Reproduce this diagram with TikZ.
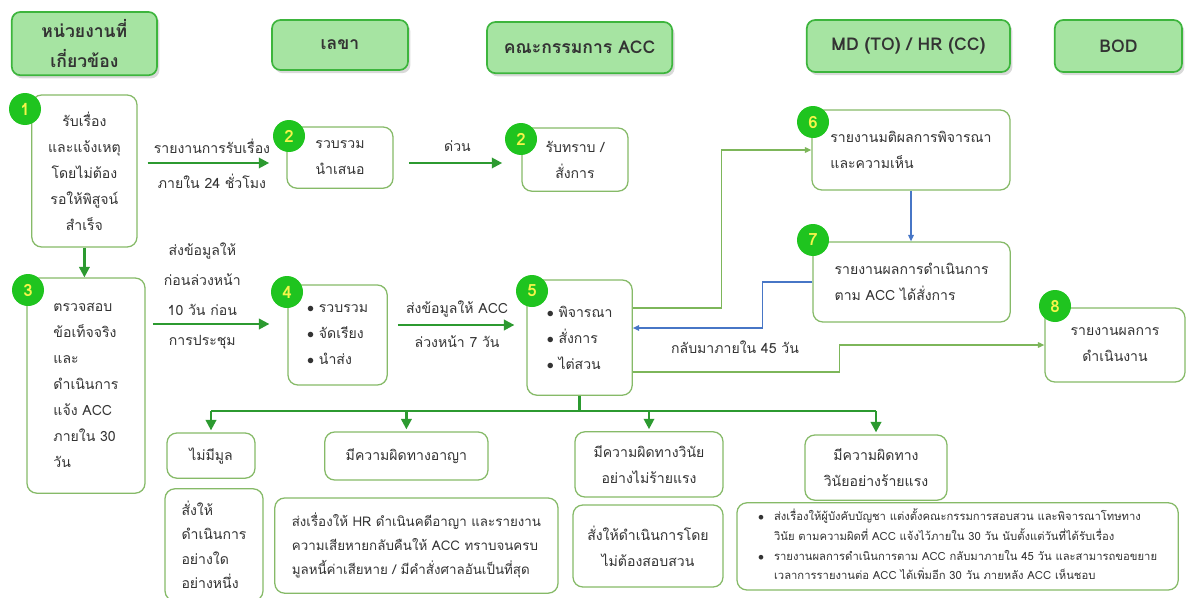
\documentclass[tikz,border=0pt]{standalone}
\usepackage{fontspec}
\setmainfont{Loma}[Script=Thai]
\usepackage{xcolor}
\usepackage{tikz}
\usetikzlibrary{calc,positioning,arrows.meta,shadows}
\definecolor{accHead}{HTML}{A6E4A2}
\definecolor{accHeadLine}{HTML}{3DB53D}
\definecolor{accLine}{HTML}{86BA68}
\definecolor{accBadge}{HTML}{1FC41F}
\definecolor{accBadgeText}{HTML}{F5F54A}
\definecolor{accFlow}{HTML}{2C9A30}
\definecolor{accThin}{HTML}{7DB65A}
\definecolor{accBlue}{HTML}{4776C6}
\definecolor{accText}{HTML}{333333}

\begin{document}
\begin{tikzpicture}[
  font=\fontsize{10}{18.5}\selectfont, text=accText,
  hd/.style={rounded corners=6pt, draw=accHeadLine, line width=1.2pt, fill=accHead, align=center,
             font=\fontsize{12.5}{21}\selectfont\bfseries,
             drop shadow={opacity=0.3, shadow xshift=0.6mm, shadow yshift=-0.8mm}},
  bx/.style={rounded corners=7pt, draw=accLine, line width=0.9pt, fill=white, align=center, inner sep=2pt},
  bxl/.style={bx, align=left},
  num/.style={circle, fill=accBadge, text=accBadgeText, minimum size=8mm, inner sep=0pt,
              font=\fontsize{12}{12}\selectfont\bfseries},
  flow/.style={-{Triangle[length=2.6mm, width=2.6mm]}, draw=accFlow, line width=1.6pt},
  bus/.style={draw=accFlow, line width=1.6pt},
  lite/.style={-{Triangle[length=1.6mm, width=1.4mm]}, draw=accThin, line width=0.9pt},
  ret/.style={-{Triangle[length=1.6mm, width=1.4mm]}, draw=accBlue, line width=0.9pt},
  lb/.style={inner sep=1pt}
]
\useasboundingbox (0,0) rectangle (29.65,-14.925);

% column headers
\node[hd, minimum width=3.63cm, minimum height=1.58cm] (hUnit) at (2.11,-1.09) {หน่วยงานที่\\เกี่ยวข้อง};
\node[hd, minimum width=3.4cm, minimum height=1.25cm] (hSec) at (8.5,-1.125) {เลขา};
\node[hd, minimum width=4.63cm, minimum height=1.28cm] (hAcc) at (14.49,-1.19) {คณะกรรมการ ACC};
\node[hd, minimum width=5.08cm, minimum height=1.3cm] (hMd) at (22.71,-1.15) {MD (TO) / HR (CC)};
\node[hd, minimum width=3.18cm, minimum height=1.3cm] (hBod) at (27.96,-1.15) {BOD};

% steps
\node[bx, minimum width=2.63cm, minimum height=3.8cm] (b1) at (2.11,-4.275) {รับเรื่อง\\และแจ้งเหตุ\\โดยไม่ต้อง\\รอให้พิสูจน์\\สำเร็จ};
\node[bx, minimum width=2.65cm, minimum height=1.53cm] (b2) at (8.5,-3.94) {รวบรวม\\นำเสนอ};
\node[bx, minimum width=2.65cm, minimum height=1.58cm] (b2acc) at (14.375,-3.99) {รับทราบ /\\สั่งการ};
\node[bxl, minimum width=2.95cm, minimum height=5.38cm] (b3) at (2.15,-9.64) {ตรวจสอบ\\ข้อเท็จจริง\\และ\\ดำเนินการ\\แจ้ง ACC\\ภายใน 30\\วัน};
\node[bxl, minimum width=2.48cm, minimum height=2.5cm] (b4) at (8.44,-8.375) {$\bullet$ รวบรวม\\$\bullet$ จัดเรียง\\$\bullet$ นำส่ง};
\node[bxl, minimum width=2.63cm, minimum height=2.88cm] (b5) at (14.49,-8.44) {$\bullet$ พิจารณา\\$\bullet$ สั่งการ\\$\bullet$ ไต่สวน};
\node[bxl, minimum width=4.95cm, minimum height=2.0cm] (b6) at (22.775,-3.75) {รายงานมติผลการพิจารณา\\และความเห็น};
\node[bxl, minimum width=4.93cm, minimum height=2.0cm] (b7) at (22.79,-7.05) {รายงานผลการดำเนินการ\\ตาม ACC ได้สั่งการ};
\node[bx, minimum width=3.5cm, minimum height=1.85cm] (b8) at (27.875,-8.625) {รายงานผลการ\\ดำเนินงาน};

% outcomes
\node[bx, minimum width=2.2cm, minimum height=1.13cm] (c1) at (5.275,-11.39) {ไม่มีมูล};
\node[bx, minimum width=4.08cm, minimum height=1.2cm] (c2) at (10.16,-11.4) {มีความผิดทางอาญา};
\node[bx, minimum width=3.7cm, minimum height=1.63cm] (c3) at (16.225,-11.61) {มีความผิดทางวินัย\\อย่างไม่ร้ายแรง};
\node[bx, minimum width=3.55cm, minimum height=1.63cm] (c4) at (21.9,-11.69) {มีความผิดทาง\\วินัยอย่างร้ายแรง};
\node[bxl, minimum width=2.45cm, minimum height=2.8cm, font=\fontsize{10}{17.5}\selectfont] (d1) at (5.35,-13.62) {สั่งให้\\ดำเนินการ\\อย่างใด\\อย่างหนึ่ง};
\node[bxl, minimum width=7.08cm, minimum height=2.38cm, font=\fontsize{9.5}{17}\selectfont] (d2) at (10.41,-13.64) {ส่งเรื่องให้ HR ดำเนินคดีอาญา และรายงาน\\ความเสียหายกลับคืนให้ ACC ทราบจนครบ\\มูลหนี้ค่าเสียหาย / มีคำสั่งศาลอันเป็นที่สุด};
\node[bx, minimum width=3.75cm, minimum height=2.05cm] (d3) at (16.2,-13.65) {สั่งให้ดำเนินการโดย\\ไม่ต้องสอบสวน};
\node[bxl, minimum width=11.03cm, minimum height=2.18cm, font=\fontsize{8}{14}\selectfont] (d4) at (23.94,-13.66) {\begin{tabular}{@{}l@{\hspace{2.5mm}}l@{}}
$\bullet$ & ส่งเรื่องให้ผู้บังคับบัญชา แต่งตั้งคณะกรรมการสอบสวน และพิจารณาโทษทาง\\
 & วินัย ตามความผิดที่ ACC แจ้งไว้ภายใน 30 วัน นับตั้งแต่วันที่ได้รับเรื่อง\\
$\bullet$ & รายงานผลการดำเนินการตาม ACC กลับมาภายใน 45 วัน และสามารถขอขยาย\\
 & เวลาการรายงานต่อ ACC ได้เพิ่มอีก 30 วัน ภายหลัง ACC เห็นชอบ
\end{tabular}};

% step badges
\node[num] (n1) at (0.625,-2.725) {1};
\node[num] (n2) at (7.225,-3.4) {2};
\node[num] (n2acc) at (13.025,-3.475) {2};
\node[num] (n3) at (0.7,-7.25) {3};
\node[num] (n4) at (7.175,-7.3) {4};
\node[num] (n5) at (13.3,-7.275) {5};
\node[num] (n6) at (20.325,-3.05) {6};
\node[num] (n7) at (20.325,-6.0) {7};
\node[num] (n8) at (26.375,-7.65) {8};

% main flow
\draw[flow, shorten <=2.5mm, shorten >=4.3mm] ($(b1.east |- b2.west)+(0,-0.135)$) -- ($(b2.west)+(0,-0.135)$)
  node[lb, midway, above=5pt] {รายงานการรับเรื่อง} node[lb, midway, below=6pt] {ภายใน 24 ชั่วโมง};
\draw[flow, shorten <=3.8mm, shorten >=4.8mm] ($(b2.east)+(0,-0.135)$) -- ($(b2.east -| b2acc.west)+(0,-0.135)$)
  node[lb, midway, above=6pt] {ด่วน};
\draw[flow] (b1.south) -- (b1.south |- b3.north);
\draw[flow, shorten <=1.8mm, shorten >=4.5mm] ($(b3.east |- b4.west)+(0,0.275)$) -- ($(b4.west)+(0,0.275)$)
  node[lb, pos=0.4, above=4pt, align=center, font=\fontsize{10}{21.5}\selectfont] {ส่งข้อมูลให้\\ก่อนล่วงหน้า\\10 วัน ก่อน}
  node[lb, pos=0.4, below=6pt] {การประชุม};
\draw[flow, shorten <=2.5mm, shorten >=3mm] ($(b4.east |- b5.west)+(0,0.315)$) -- ($(b5.west)+(0,0.315)$)
  node[lb, midway, above=4pt] {ส่งข้อมูลให้ ACC} node[lb, midway, below=6pt] {ล่วงหน้า 7 วัน};

% reporting lines
\draw[lite] ($(b5.east)+(0,0.74)$) -| ($(b6.west)+(-2.25,0)$) -- (b6.west);
\draw[ret] (b6.south) -- (b6.south |- b7.north);
\draw[ret] (b7.west) -- ++(-1.25,0) |- ($(b5.east)+(0,0.24)$);
\node[lb] (backlbl) at (18.375,-8.675) {กลับมาภายใน 45 วัน};
\draw[lite] ($(b5.east)+(0,-0.86)$) -| ($(b8.west)+(-5.125,0)$) -- (b8.west);

% outcome split
\coordinate (split) at ($(b5.south)+(0,-0.375)$);
\draw[bus] (b5.south) -- (split);
\draw[bus] (c1.north |- split) -- (c4.north |- split);
\draw[flow, shorten >=0.5mm] (c1.north |- split) -- (c1.north);
\draw[flow, shorten >=0.5mm] (c2.north |- split) -- (c2.north);
\draw[flow, shorten >=0.5mm] (c3.north |- split) -- (c3.north);
\draw[flow, shorten >=0.5mm] (c4.north |- split) -- (c4.north);
\end{tikzpicture}
\end{document}
